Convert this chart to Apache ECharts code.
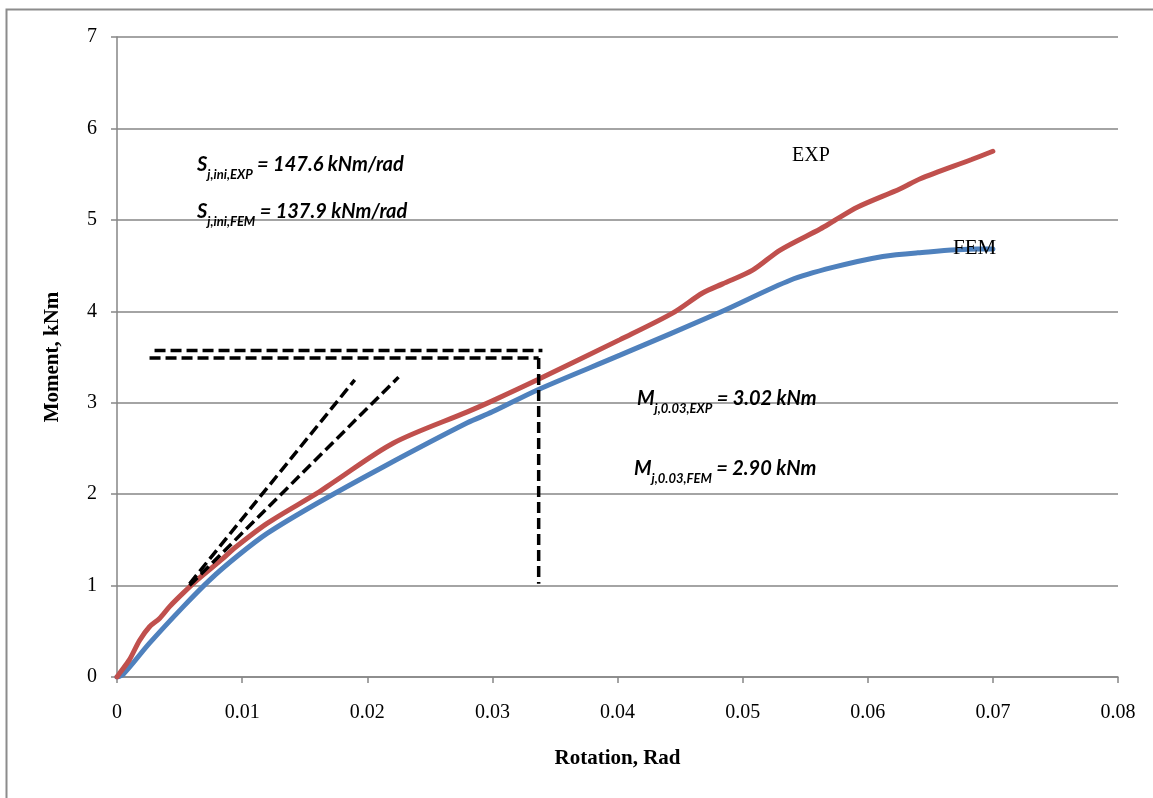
<!DOCTYPE html>
<html>
<head>
<meta charset="utf-8">
<script src="https://cdn.jsdelivr.net/npm/echarts@6/dist/echarts.min.js"></script>
<style>html,body{margin:0;padding:0;background:#fff}#c{width:1153px;height:798px}</style>
</head>
<body>
<div id="c"></div>
<script>
// ---- data ----
const expX = [0, 0.0002, 0.001, 0.0018, 0.0026, 0.0034, 0.0042, 0.0053, 0.0064, 0.0085, 0.0093, 0.012, 0.016, 0.0173, 0.0221, 0.028, 0.03, 0.0336, 0.0402, 0.0444, 0.0468, 0.0484, 0.0508, 0.053, 0.0562, 0.0572, 0.0592, 0.0626, 0.0642, 0.0683, 0.07];
const expY = [0, 0.04, 0.19, 0.40, 0.55, 0.64, 0.77, 0.92, 1.06, 1.30, 1.40, 1.68, 2.01, 2.13, 2.56, 2.90, 3.02, 3.25, 3.69, 3.98, 4.20, 4.30, 4.45, 4.67, 4.90, 4.98, 5.14, 5.34, 5.45, 5.66, 5.75];
const femX = [0, 0.0005, 0.0026, 0.0053, 0.0074, 0.0096, 0.012, 0.016, 0.0213, 0.028, 0.03, 0.0336, 0.0402, 0.0482, 0.0538, 0.0572, 0.0612, 0.064, 0.0687, 0.07];
const femY = [0, 0.03, 0.37, 0.77, 1.06, 1.32, 1.57, 1.90, 2.30, 2.78, 2.90, 3.14, 3.52, 3.99, 4.34, 4.48, 4.60, 4.64, 4.68, 4.68];
const hUpper = [[0.0030, 3.57], [0.0340, 3.57]];
const hLower = [[0.0026, 3.49], [0.0337, 3.49]];
const vLine = [[0.0337, 3.49], [0.0337, 1.02]];
const tangentExp = [[0.0058, 1.02], [0.0190, 3.25]];
const tangentFem = [[0.0058, 1.00], [0.0225, 3.28]];
const xTicks = ['0', '0.01', '0.02', '0.03', '0.04', '0.05', '0.06', '0.07', '0.08'];
const yTicks = ['0', '1', '2', '3', '4', '5', '6', '7'];

const zip = (xs, ys) => xs.map((x, i) => [x, ys[i]]);
const serif = 'Liberation Serif';
const sans = 'Lato';
const dashStyle = { color: '#000', width: 3.5, type: [11, 5] };

const chart = echarts.init(document.getElementById('c'), null, { renderer: 'canvas' });

const mainTok = { fontFamily: sans, fontSize: 20, fontWeight: 'bold', fontStyle: 'italic', color: '#000', lineHeight: 24, verticalAlign: 'top' };
const subTok = { fontFamily: sans, fontSize: 13, fontWeight: 'bold', fontStyle: 'italic', color: '#000', lineHeight: 14, padding: [13, 0, 0, 0], verticalAlign: 'top' };
const rich = { m: mainTok, s: subTok };

function ann(x, y, main, sub, rest) {
  return {
    type: 'text', left: x, top: y, z: 10,
    style: { text: '{m|' + main + '}{s|' + sub + '}{m|' + rest + '}', rich: rich }
  };
}

chart.setOption({
  animation: false,
  grid: { left: 117, right: 35, top: 37, bottom: 121, containLabel: false },
  xAxis: {
    type: 'value', min: 0, max: 0.08, interval: 0.01,
    name: 'Rotation, Rad', nameLocation: 'middle', nameGap: 71,
    nameTextStyle: { fontFamily: serif, fontSize: 21, fontWeight: 'bold', color: '#000' },
    axisLine: { show: true, lineStyle: { color: '#868686', width: 1.5 } },
    axisTick: { show: true, inside: false, length: 6, lineStyle: { color: '#868686', width: 1.5 } },
    axisLabel: { fontFamily: serif, fontSize: 20, color: '#000', margin: 26,
      formatter: (v) => xTicks[Math.round(v / 0.01)] },
    splitLine: { show: false }
  },
  yAxis: {
    type: 'value', min: 0, max: 7, interval: 1,
    name: 'Moment, kNm', nameLocation: 'middle', nameGap: 54,
    nameTextStyle: { fontFamily: serif, fontSize: 21, fontWeight: 'bold', color: '#000' },
    axisLine: { show: true, lineStyle: { color: '#868686', width: 1.5 } },
    axisTick: { show: true, inside: false, length: 6, lineStyle: { color: '#868686', width: 1.5 } },
    axisLabel: { fontFamily: serif, fontSize: 20, color: '#000', margin: 20,
      formatter: (v) => yTicks[Math.round(v)] },
    splitLine: { show: true, lineStyle: { color: '#868686', width: 1.5 } }
  },
  series: [
    { name: 'FEM', type: 'line', data: zip(femX, femY), showSymbol: false, smooth: 0.3,
      lineStyle: { color: '#4F81BD', width: 5, cap: 'round' }, z: 3 },
    { name: 'EXP', type: 'line', data: zip(expX, expY), showSymbol: false, smooth: 0.3,
      lineStyle: { color: '#C0504D', width: 5, cap: 'round' }, z: 4 },
    { type: 'line', data: hUpper, showSymbol: false, lineStyle: dashStyle, z: 5 },
    { type: 'line', data: hLower, showSymbol: false, lineStyle: dashStyle, z: 5 },
    { type: 'line', data: vLine, showSymbol: false, lineStyle: dashStyle, z: 5 },
    { type: 'line', data: tangentExp, showSymbol: false, lineStyle: dashStyle, z: 5 },
    { type: 'line', data: tangentFem, showSymbol: false, lineStyle: dashStyle, z: 5 }
  ],
  graphic: [
    { type: 'rect', left: 4, top: 7, z: 0, silent: true,
      shape: { x: 0, y: 0, width: 1200, height: 850 },
      style: { fill: 'none', stroke: '#8c8c8c', lineWidth: 2 } },
    ann(197, 155, 'S', 'j,ini,EXP', ' = 147.6 kNm/rad'),
    ann(197, 202, 'S', 'j,ini,FEM', ' = 137.9 kNm/rad'),
    ann(637, 389, 'M', 'j,0.03,EXP', ' = 3.02 kNm'),
    ann(634, 459, 'M', 'j,0.03,FEM', ' = 2.90 kNm'),
    { type: 'text', left: 792, top: 146, z: 10,
      style: { text: 'EXP', fontFamily: serif, fontSize: 20, fill: '#000' } },
    { type: 'text', left: 953, top: 238, z: 10,
      style: { text: 'FEM', fontFamily: serif, fontSize: 21, fill: '#000' } }
  ]
});
</script>
</body>
</html>
